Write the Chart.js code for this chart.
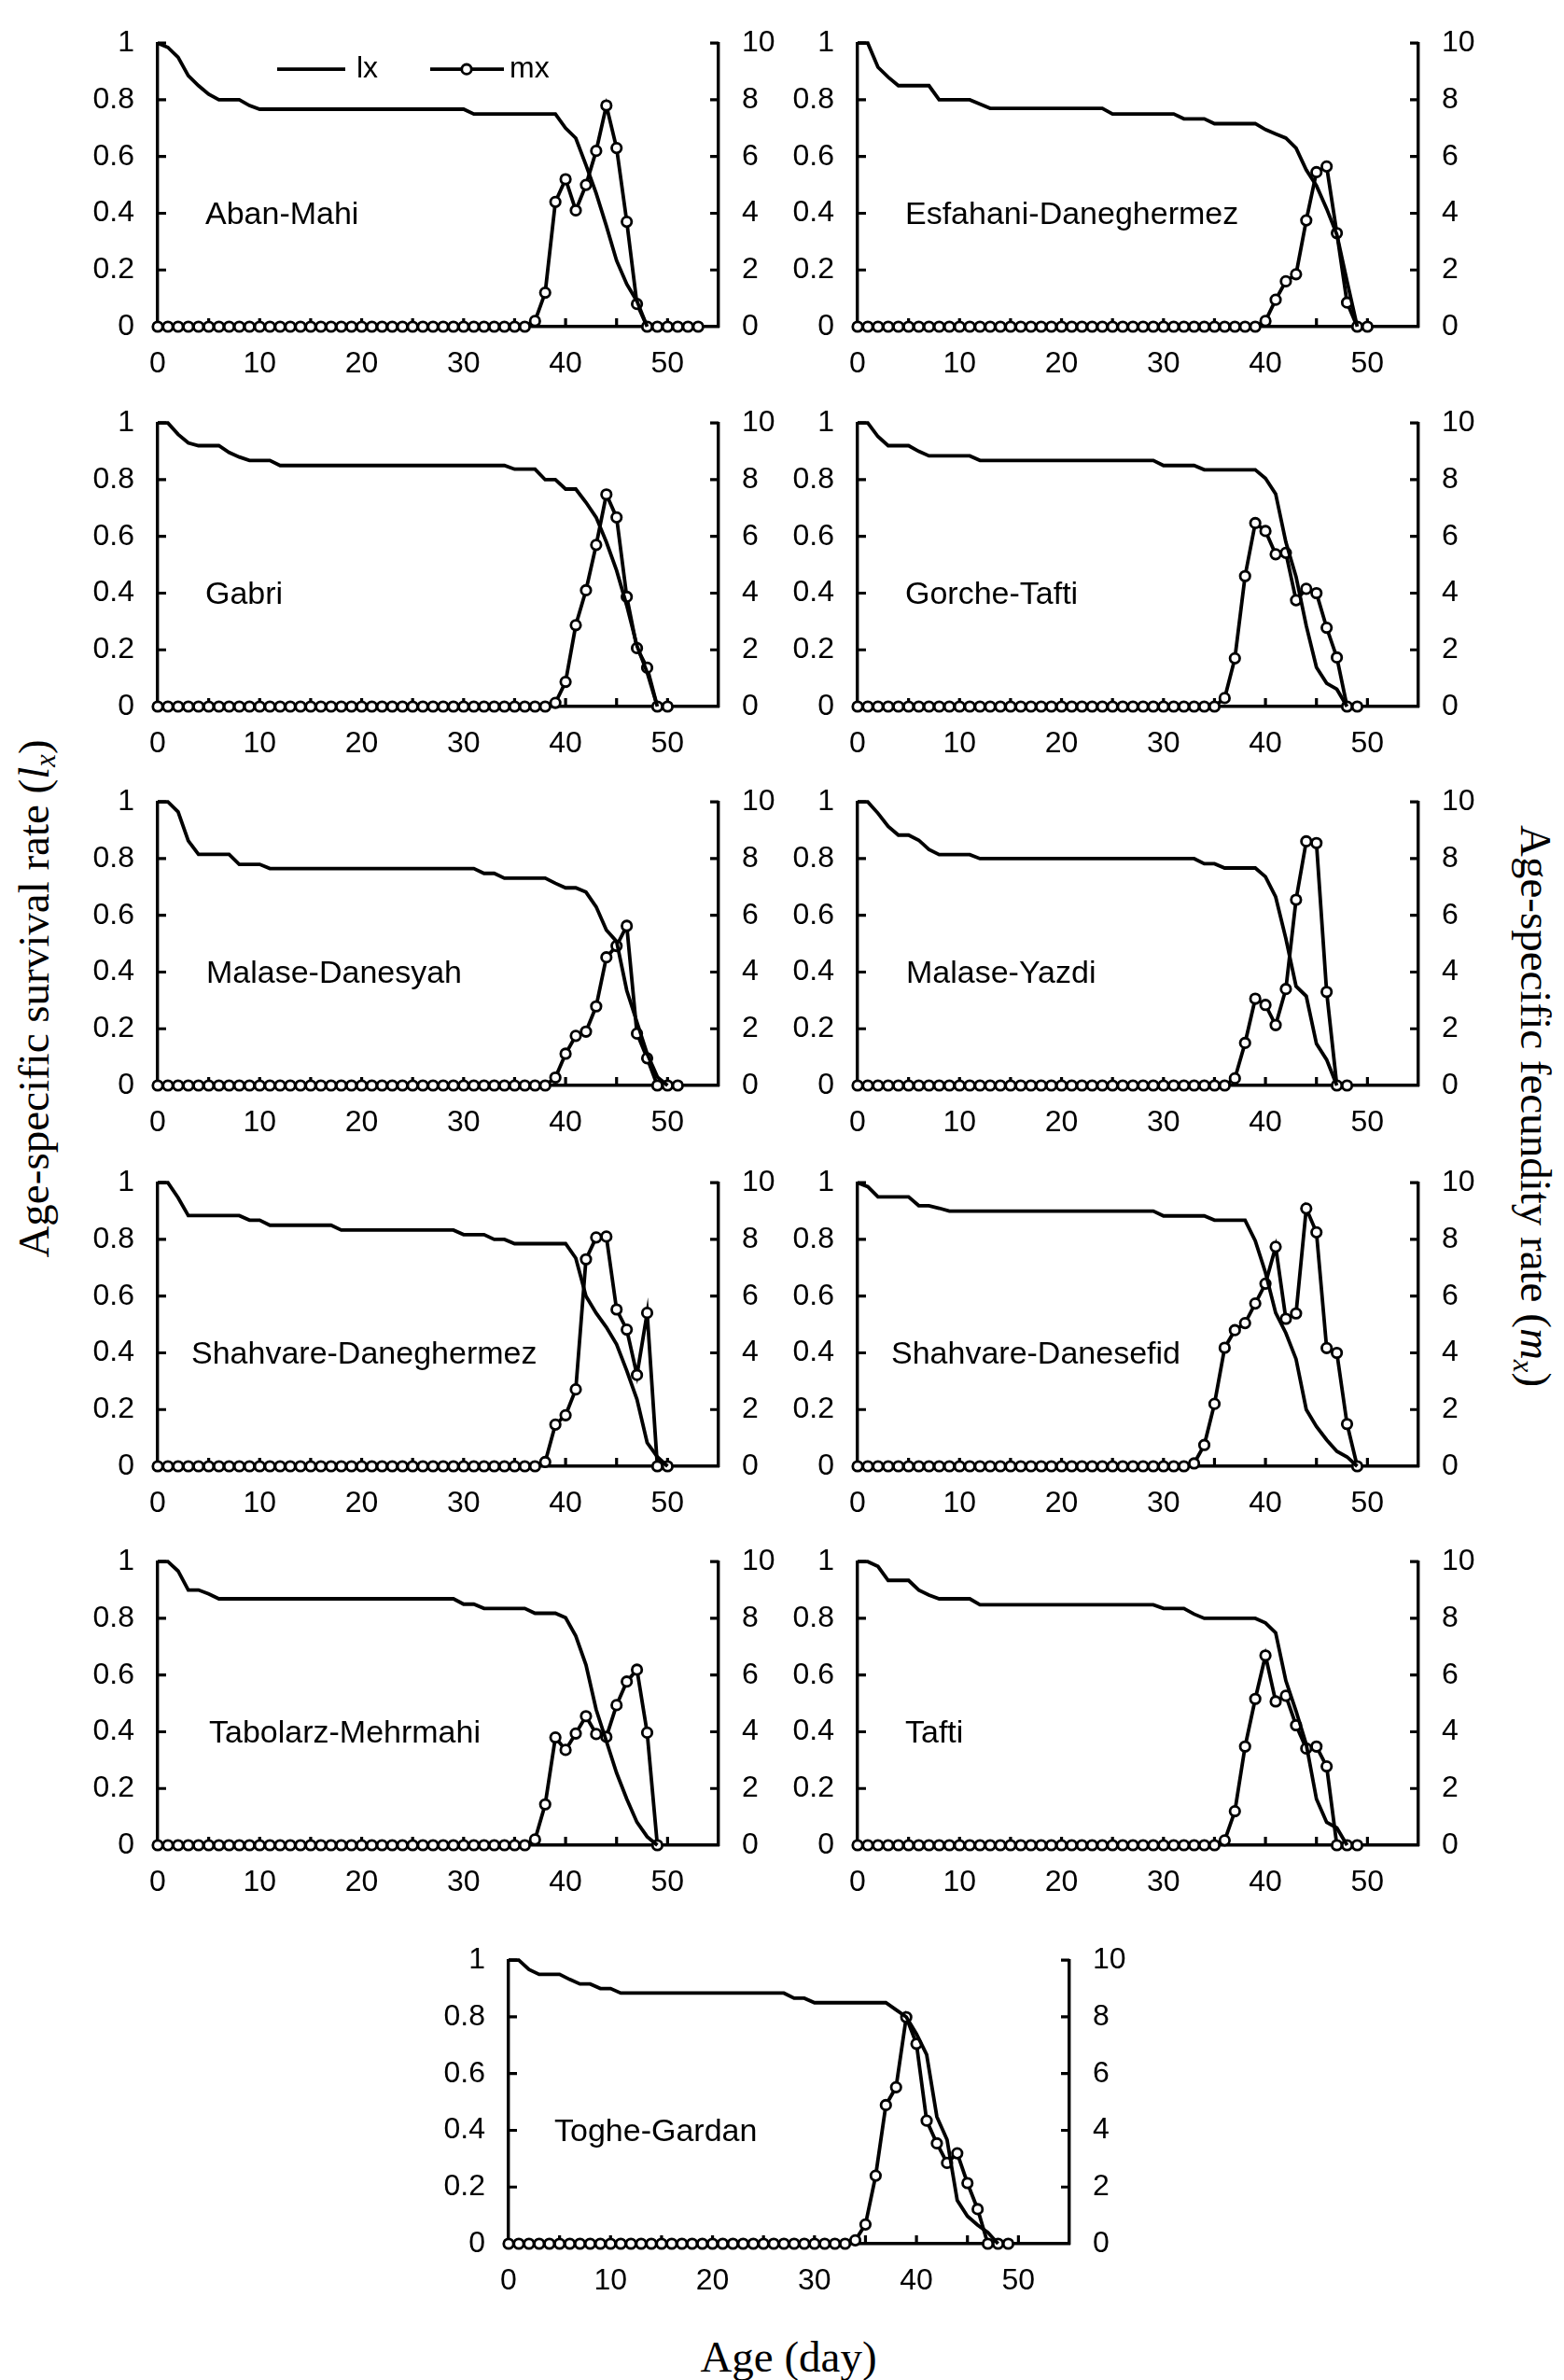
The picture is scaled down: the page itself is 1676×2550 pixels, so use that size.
<!DOCTYPE html>
<html>
<head>
<meta charset="utf-8">
<script src="https://cdn.jsdelivr.net/npm/chart.js@4.4.0/dist/chart.umd.min.js"></script>
<style>
  body { margin: 0; background: #fff; width: 1676px; height: 2550px; position: relative; overflow: hidden; }
  canvas.panel { position: absolute; }
  .title { position: absolute; font-family: 'Liberation Serif', 'Times New Roman', serif; font-size: 47px; line-height: 1; color: #000; white-space: nowrap; }
  .title sub { font-size: 0.65em; vertical-align: -0.25em; line-height: 0; }
</style>
</head>
<body>
<div class="title" id="yLeft" style="left:36px; top:1070px; transform: translate(-50%,-50%) rotate(-90deg);">Age-specific survival rate (<i>l</i><sub><i>x</i></sub>)</div>
<div class="title" id="yRight" style="left:1645px; top:1185px; transform: translate(-50%,-50%) rotate(90deg);">Age-specific fecundity rate (<i>m</i><sub><i>x</i></sub>)</div>
<div class="title" id="xTitle" style="left:845px; top:2525px; transform: translate(-50%,-50%);">Age (day)</div>

<script>
// survival (lx) and fecundity (mx) per day, index = age in days
const abanMahiLx = [
  1, 0.985, 0.95, 0.885, 0.85, 0.82, 0.8, 0.8, 0.8, 0.78,
  0.767, 0.767, 0.767, 0.767, 0.767, 0.767, 0.767, 0.767, 0.767, 0.767,
  0.767, 0.767, 0.767, 0.767, 0.767, 0.767, 0.767, 0.767, 0.767, 0.767,
  0.767, 0.75, 0.75, 0.75, 0.75, 0.75, 0.75, 0.75, 0.75, 0.75,
  0.7, 0.665, 0.57, 0.47, 0.355, 0.233, 0.15, 0.09, 0
];
const abanMahiMx = [
  0, 0, 0, 0, 0, 0, 0, 0, 0, 0,
  0, 0, 0, 0, 0, 0, 0, 0, 0, 0,
  0, 0, 0, 0, 0, 0, 0, 0, 0, 0,
  0, 0, 0, 0, 0, 0, 0, 0.2, 1.2, 4.4,
  5.2, 4.1, 5.0, 6.2, 7.8, 6.3, 3.7, 0.8, 0, 0,
  0, 0, 0, 0
];

const esfahaniLx = [
  1, 1, 0.915, 0.88, 0.85, 0.85, 0.85, 0.85, 0.8, 0.8,
  0.8, 0.8, 0.785, 0.77, 0.77, 0.77, 0.77, 0.77, 0.77, 0.77,
  0.77, 0.77, 0.77, 0.77, 0.77, 0.75, 0.75, 0.75, 0.75, 0.75,
  0.75, 0.75, 0.733, 0.733, 0.733, 0.716, 0.716, 0.716, 0.716, 0.716,
  0.695, 0.68, 0.665, 0.63, 0.553, 0.497, 0.416, 0.325, 0.16, 0
];
const esfahaniMx = [
  0, 0, 0, 0, 0, 0, 0, 0, 0, 0,
  0, 0, 0, 0, 0, 0, 0, 0, 0, 0,
  0, 0, 0, 0, 0, 0, 0, 0, 0, 0,
  0, 0, 0, 0, 0, 0, 0, 0, 0, 0,
  0.2, 0.95, 1.6, 1.85, 3.75, 5.45, 5.65, 3.3, 0.85, 0,
  0
];

const gabriLx = [
  1, 1, 0.96, 0.93, 0.92, 0.92, 0.92, 0.896, 0.88, 0.868,
  0.868, 0.868, 0.85, 0.85, 0.85, 0.85, 0.85, 0.85, 0.85, 0.85,
  0.85, 0.85, 0.85, 0.85, 0.85, 0.85, 0.85, 0.85, 0.85, 0.85,
  0.85, 0.85, 0.85, 0.85, 0.85, 0.837, 0.837, 0.837, 0.8, 0.8,
  0.767, 0.767, 0.72, 0.667, 0.58, 0.48, 0.356, 0.214, 0.12, 0
];
const gabriMx = [
  0, 0, 0, 0, 0, 0, 0, 0, 0, 0,
  0, 0, 0, 0, 0, 0, 0, 0, 0, 0,
  0, 0, 0, 0, 0, 0, 0, 0, 0, 0,
  0, 0, 0, 0, 0, 0, 0, 0, 0, 0.13,
  0.87, 2.87, 4.1, 5.7, 7.48, 6.67, 3.87, 2.06, 1.37, 0,
  0
];

const gorcheTaftiLx = [
  1, 1, 0.952, 0.92, 0.92, 0.92, 0.9, 0.884, 0.884, 0.884,
  0.884, 0.884, 0.868, 0.868, 0.868, 0.868, 0.868, 0.868, 0.868, 0.868,
  0.868, 0.868, 0.868, 0.868, 0.868, 0.868, 0.868, 0.868, 0.868, 0.868,
  0.85, 0.85, 0.85, 0.85, 0.835, 0.835, 0.835, 0.835, 0.835, 0.835,
  0.805, 0.75, 0.58, 0.458, 0.285, 0.138, 0.082, 0.061, 0
];
const gorcheTaftiMx = [
  0, 0, 0, 0, 0, 0, 0, 0, 0, 0,
  0, 0, 0, 0, 0, 0, 0, 0, 0, 0,
  0, 0, 0, 0, 0, 0, 0, 0, 0, 0,
  0, 0, 0, 0, 0, 0, 0.3, 1.7, 4.6, 6.47,
  6.19, 5.37, 5.42, 3.75, 4.15, 4.0, 2.78, 1.73, 0, 0
];

const malaseDanesyahLx = [
  1, 1, 0.965, 0.863, 0.815, 0.815, 0.815, 0.815, 0.78, 0.78,
  0.78, 0.765, 0.765, 0.765, 0.765, 0.765, 0.765, 0.765, 0.765, 0.765,
  0.765, 0.765, 0.765, 0.765, 0.765, 0.765, 0.765, 0.765, 0.765, 0.765,
  0.765, 0.765, 0.748, 0.748, 0.731, 0.731, 0.731, 0.731, 0.731, 0.713,
  0.697, 0.697, 0.682, 0.63, 0.548, 0.508, 0.335, 0.223, 0.112, 0.03,
  0
];
const malaseDanesyahMx = [
  0, 0, 0, 0, 0, 0, 0, 0, 0, 0,
  0, 0, 0, 0, 0, 0, 0, 0, 0, 0,
  0, 0, 0, 0, 0, 0, 0, 0, 0, 0,
  0, 0, 0, 0, 0, 0, 0, 0, 0, 0.28,
  1.12, 1.75, 1.9, 2.79, 4.52, 4.92, 5.63, 1.83, 0.96, 0,
  0, 0
];

const malaseYazdiLx = [
  1, 1, 0.96, 0.914, 0.883, 0.883, 0.865, 0.832, 0.814, 0.814,
  0.814, 0.814, 0.8, 0.8, 0.8, 0.8, 0.8, 0.8, 0.8, 0.8,
  0.8, 0.8, 0.8, 0.8, 0.8, 0.8, 0.8, 0.8, 0.8, 0.8,
  0.8, 0.8, 0.8, 0.8, 0.782, 0.782, 0.767, 0.767, 0.767, 0.767,
  0.736, 0.665, 0.518, 0.35, 0.315, 0.147, 0.091, 0
];
const malaseYazdiMx = [
  0, 0, 0, 0, 0, 0, 0, 0, 0, 0,
  0, 0, 0, 0, 0, 0, 0, 0, 0, 0,
  0, 0, 0, 0, 0, 0, 0, 0, 0, 0,
  0, 0, 0, 0, 0, 0, 0, 0.25, 1.5, 3.06,
  2.84, 2.13, 3.4, 6.55, 8.61, 8.55, 3.3, 0, 0
];

const shahvareDaneghermezLx = [
  1, 1, 0.947, 0.884, 0.884, 0.884, 0.884, 0.884, 0.884, 0.868,
  0.868, 0.85, 0.85, 0.85, 0.85, 0.85, 0.85, 0.85, 0.833, 0.833,
  0.833, 0.833, 0.833, 0.833, 0.833, 0.833, 0.833, 0.833, 0.833, 0.833,
  0.817, 0.817, 0.817, 0.8, 0.8, 0.785, 0.785, 0.785, 0.785, 0.785,
  0.785, 0.734, 0.6, 0.54, 0.49, 0.43, 0.337, 0.236, 0.083, 0.033,
  0
];
const shahvareDaneghermezMx = [
  0, 0, 0, 0, 0, 0, 0, 0, 0, 0,
  0, 0, 0, 0, 0, 0, 0, 0, 0, 0,
  0, 0, 0, 0, 0, 0, 0, 0, 0, 0,
  0, 0, 0, 0, 0, 0, 0, 0, 0.15, 1.47,
  1.8, 2.71, 7.3, 8.07, 8.1, 5.53, 4.82, 3.22, 5.41, 0,
  0
];

const shahvareDanesefidLx = [
  1, 0.986, 0.95, 0.95, 0.95, 0.95, 0.919, 0.919, 0.91, 0.9,
  0.9, 0.9, 0.9, 0.9, 0.9, 0.9, 0.9, 0.9, 0.9, 0.9,
  0.9, 0.9, 0.9, 0.9, 0.9, 0.9, 0.9, 0.9, 0.9, 0.9,
  0.883, 0.883, 0.883, 0.883, 0.883, 0.868, 0.868, 0.868, 0.868, 0.795,
  0.683, 0.541, 0.47, 0.378, 0.2, 0.14, 0.093, 0.053, 0.033, 0
];
const shahvareDanesefidMx = [
  0, 0, 0, 0, 0, 0, 0, 0, 0, 0,
  0, 0, 0, 0, 0, 0, 0, 0, 0, 0,
  0, 0, 0, 0, 0, 0, 0, 0, 0, 0,
  0, 0, 0, 0.1, 0.75, 2.2, 4.18, 4.8, 5.05, 5.74,
  6.44, 7.74, 5.2, 5.39, 9.09, 8.25, 4.17, 4.0, 1.49, 0
];

const tabolarzMehrmahiLx = [
  1, 1, 0.967, 0.9, 0.9, 0.886, 0.869, 0.869, 0.869, 0.869,
  0.869, 0.869, 0.869, 0.869, 0.869, 0.869, 0.869, 0.869, 0.869, 0.869,
  0.869, 0.869, 0.869, 0.869, 0.869, 0.869, 0.869, 0.869, 0.869, 0.869,
  0.85, 0.85, 0.835, 0.835, 0.835, 0.835, 0.835, 0.818, 0.818, 0.818,
  0.802, 0.738, 0.636, 0.478, 0.367, 0.255, 0.163, 0.081, 0.03, 0
];
const tabolarzMehrmahiMx = [
  0, 0, 0, 0, 0, 0, 0, 0, 0, 0,
  0, 0, 0, 0, 0, 0, 0, 0, 0, 0,
  0, 0, 0, 0, 0, 0, 0, 0, 0, 0,
  0, 0, 0, 0, 0, 0, 0, 0.2, 1.44, 3.8,
  3.36, 3.94, 4.55, 3.92, 3.82, 4.94, 5.77, 6.19, 3.97, 0
];

const taftiLx = [
  1, 1, 0.983, 0.934, 0.934, 0.934, 0.9, 0.882, 0.869, 0.869,
  0.869, 0.869, 0.848, 0.848, 0.848, 0.848, 0.848, 0.848, 0.848, 0.848,
  0.848, 0.848, 0.848, 0.848, 0.848, 0.848, 0.848, 0.848, 0.848, 0.848,
  0.835, 0.835, 0.835, 0.815, 0.8, 0.8, 0.8, 0.8, 0.8, 0.8,
  0.784, 0.749, 0.58, 0.473, 0.356, 0.163, 0.081, 0.061, 0
];
const taftiMx = [
  0, 0, 0, 0, 0, 0, 0, 0, 0, 0,
  0, 0, 0, 0, 0, 0, 0, 0, 0, 0,
  0, 0, 0, 0, 0, 0, 0, 0, 0, 0,
  0, 0, 0, 0, 0, 0, 0.17, 1.2, 3.48, 5.16,
  6.69, 5.07, 5.27, 4.23, 3.41, 3.48, 2.78, 0, 0, 0
];

const togheGardanLx = [
  1, 1, 0.967, 0.95, 0.95, 0.95, 0.932, 0.916, 0.916, 0.9,
  0.9, 0.884, 0.884, 0.884, 0.884, 0.884, 0.884, 0.884, 0.884, 0.884,
  0.884, 0.884, 0.884, 0.884, 0.884, 0.884, 0.884, 0.884, 0.866, 0.866,
  0.85, 0.85, 0.85, 0.85, 0.85, 0.85, 0.85, 0.85, 0.825, 0.8,
  0.74, 0.667, 0.448, 0.367, 0.153, 0.097, 0.066, 0.04, 0
];
const togheGardanMx = [
  0, 0, 0, 0, 0, 0, 0, 0, 0, 0,
  0, 0, 0, 0, 0, 0, 0, 0, 0, 0,
  0, 0, 0, 0, 0, 0, 0, 0, 0, 0,
  0, 0, 0, 0, 0.12, 0.68, 2.4, 4.89, 5.52, 7.99,
  7.05, 4.34, 3.54, 2.85, 3.19, 2.14, 1.22, 0, 0, 0
];

// axis ranges and labels
const ageMax = 55;
const ageStep = 5;
const lxMax = 1;
const lxStep = 0.2;
const mxMax = 10;
const mxStep = 2;
const legendLabels = ['lx', 'mx'];

// page layout (pixels)
const PLOT_W = 601;
const PLOT_H = 328;
const PAD_SIDE = 100;
const PAD_TOP = 20;
const PAD_BOTTOM = 70;
const TICK = 9;
const LINE_W = 3.8;
const SANS = "'Liberation Sans', Arial, sans-serif";

const panels = [
  { name: 'Aban-Mahi', lx: abanMahiLx, mx: abanMahiMx, left: 169, top: 22, dx: 51, legend: true },
  { name: 'Esfahani-Daneghermez', lx: esfahaniLx, mx: esfahaniMx, left: 919, top: 22, dx: 51 },
  { name: 'Gabri', lx: gabriLx, mx: gabriMx, left: 169, top: 429, dx: 51 },
  { name: 'Gorche-Tafti', lx: gorcheTaftiLx, mx: gorcheTaftiMx, left: 919, top: 429, dx: 51 },
  { name: 'Malase-Danesyah', lx: malaseDanesyahLx, mx: malaseDanesyahMx, left: 169, top: 835, dx: 52 },
  { name: 'Malase-Yazdi', lx: malaseYazdiLx, mx: malaseYazdiMx, left: 919, top: 835, dx: 52 },
  { name: 'Shahvare-Daneghermez', lx: shahvareDaneghermezLx, mx: shahvareDaneghermezMx, left: 169, top: 1243, dx: 36 },
  { name: 'Shahvare-Danesefid', lx: shahvareDanesefidLx, mx: shahvareDanesefidMx, left: 919, top: 1243, dx: 36 },
  { name: 'Tabolarz-Mehrmahi', lx: tabolarzMehrmahiLx, mx: tabolarzMehrmahiMx, left: 169, top: 1649, dx: 55 },
  { name: 'Tafti', lx: taftiLx, mx: taftiMx, left: 919, top: 1649, dx: 51 },
  { name: 'Toghe-Gardan', lx: togheGardanLx, mx: togheGardanMx, left: 545, top: 2076, dx: 49 }
];

Chart.defaults.font.family = SANS;
Chart.defaults.color = '#000';

// tick marks point into the plot, like the original
const innerTicks = {
  id: 'innerTicks',
  beforeDatasetsDraw(chart) {
    const { ctx, chartArea: a, scales } = chart;
    ctx.save();
    ctx.strokeStyle = '#000';
    ctx.lineWidth = 3.2;
    ctx.beginPath();
    scales.x.ticks.forEach(t => {
      if (t.value <= 0 || t.value >= ageMax) return;
      const px = scales.x.getPixelForValue(t.value);
      ctx.moveTo(px, a.bottom);
      ctx.lineTo(px, a.bottom - TICK);
    });
    scales.y.ticks.forEach(t => {
      if (t.value <= 0) return;
      const py = scales.y.getPixelForValue(t.value);
      ctx.moveTo(a.left, py);
      ctx.lineTo(a.left + TICK, py);
    });
    scales.y2.ticks.forEach(t => {
      if (t.value <= 0) return;
      const py = scales.y2.getPixelForValue(t.value);
      ctx.moveTo(a.right, py);
      ctx.lineTo(a.right - TICK, py);
    });
    ctx.stroke();
    ctx.restore();
  }
};

// panel name and (first panel only) legend
const panelText = {
  id: 'panelText',
  afterDatasetsDraw(chart, args, opts) {
    const { ctx, chartArea: a } = chart;
    ctx.save();
    ctx.fillStyle = '#000';
    ctx.font = '34px ' + SANS;
    ctx.textBaseline = 'alphabetic';
    ctx.fillText(opts.text, a.left + opts.dx, a.top + PLOT_H * 0.59);
    if (opts.legend) {
      const y = a.top + 28;
      ctx.strokeStyle = '#000';
      ctx.lineWidth = LINE_W;
      ctx.beginPath();
      ctx.moveTo(a.left + 128, y);
      ctx.lineTo(a.left + 201, y);
      ctx.moveTo(a.left + 292, y);
      ctx.lineTo(a.left + 371, y);
      ctx.stroke();
      ctx.beginPath();
      ctx.arc(a.left + 331, y, 5.2, 0, Math.PI * 2);
      ctx.fillStyle = '#fff';
      ctx.fill();
      ctx.lineWidth = 2.8;
      ctx.stroke();
      ctx.fillStyle = '#000';
      ctx.font = '32px ' + SANS;
      ctx.textBaseline = 'middle';
      ctx.fillText(legendLabels[0], a.left + 213, y);
      ctx.fillText(legendLabels[1], a.left + 377, y);
    }
    ctx.restore();
  }
};

function toPoints(values) {
  return values.map((v, i) => ({ x: i, y: v }));
}

function fixWidth(scale) { scale.width = PAD_SIDE; }

panels.forEach(p => {
  const canvas = document.createElement('canvas');
  canvas.className = 'panel';
  canvas.width = PLOT_W + 2 * PAD_SIDE;
  canvas.height = PLOT_H + PAD_TOP + PAD_BOTTOM;
  canvas.style.left = (p.left - PAD_SIDE) + 'px';
  canvas.style.top = (p.top - PAD_TOP) + 'px';
  canvas.style.width = canvas.width + 'px';
  canvas.style.height = canvas.height + 'px';
  document.body.appendChild(canvas);

  new Chart(canvas, {
    type: 'line',
    data: {
      datasets: [
        {
          label: 'lx',
          data: toPoints(p.lx),
          yAxisID: 'y',
          borderColor: '#000',
          borderWidth: LINE_W,
          pointRadius: 0,
          tension: 0,
          clip: false
        },
        {
          label: 'mx',
          data: toPoints(p.mx),
          yAxisID: 'y2',
          borderColor: '#000',
          borderWidth: LINE_W,
          pointRadius: 5.2,
          pointBorderWidth: 2.8,
          pointBackgroundColor: '#fff',
          pointBorderColor: '#000',
          tension: 0,
          clip: false
        }
      ]
    },
    options: {
      responsive: false,
      animation: false,
      events: [],
      layout: { padding: { top: PAD_TOP, left: 0, right: 0, bottom: 0 } },
      plugins: {
        legend: { display: false },
        tooltip: { enabled: false },
        panelText: { text: p.name, dx: p.dx, legend: !!p.legend }
      },
      scales: {
        x: {
          type: 'linear',
          min: 0,
          max: ageMax,
          afterFit: s => { s.height = PAD_BOTTOM; },
          grid: { display: false, drawTicks: false },
          border: { display: true, color: '#000', width: 3.4 },
          ticks: {
            stepSize: ageStep,
            autoSkip: false,
            maxRotation: 0,
            padding: 21,
            font: { size: 32 },
            color: '#000',
            callback: v => (v % 10 === 0 ? String(v) : '')
          }
        },
        y: {
          position: 'left',
          min: 0,
          max: lxMax,
          afterFit: fixWidth,
          grid: { display: false, drawTicks: false },
          border: { display: true, color: '#000', width: 3.4 },
          ticks: {
            stepSize: lxStep,
            padding: 25,
            font: { size: 32 },
            color: '#000',
            callback: v => String(Math.round(v * 10) / 10)
          }
        },
        y2: {
          position: 'right',
          min: 0,
          max: mxMax,
          afterFit: fixWidth,
          grid: { display: false, drawTicks: false },
          border: { display: true, color: '#000', width: 3.4 },
          ticks: {
            stepSize: mxStep,
            padding: 25,
            font: { size: 32 },
            color: '#000',
            callback: v => String(v)
          }
        }
      }
    },
    plugins: [innerTicks, panelText]
  });
});
</script>
</body>
</html>
